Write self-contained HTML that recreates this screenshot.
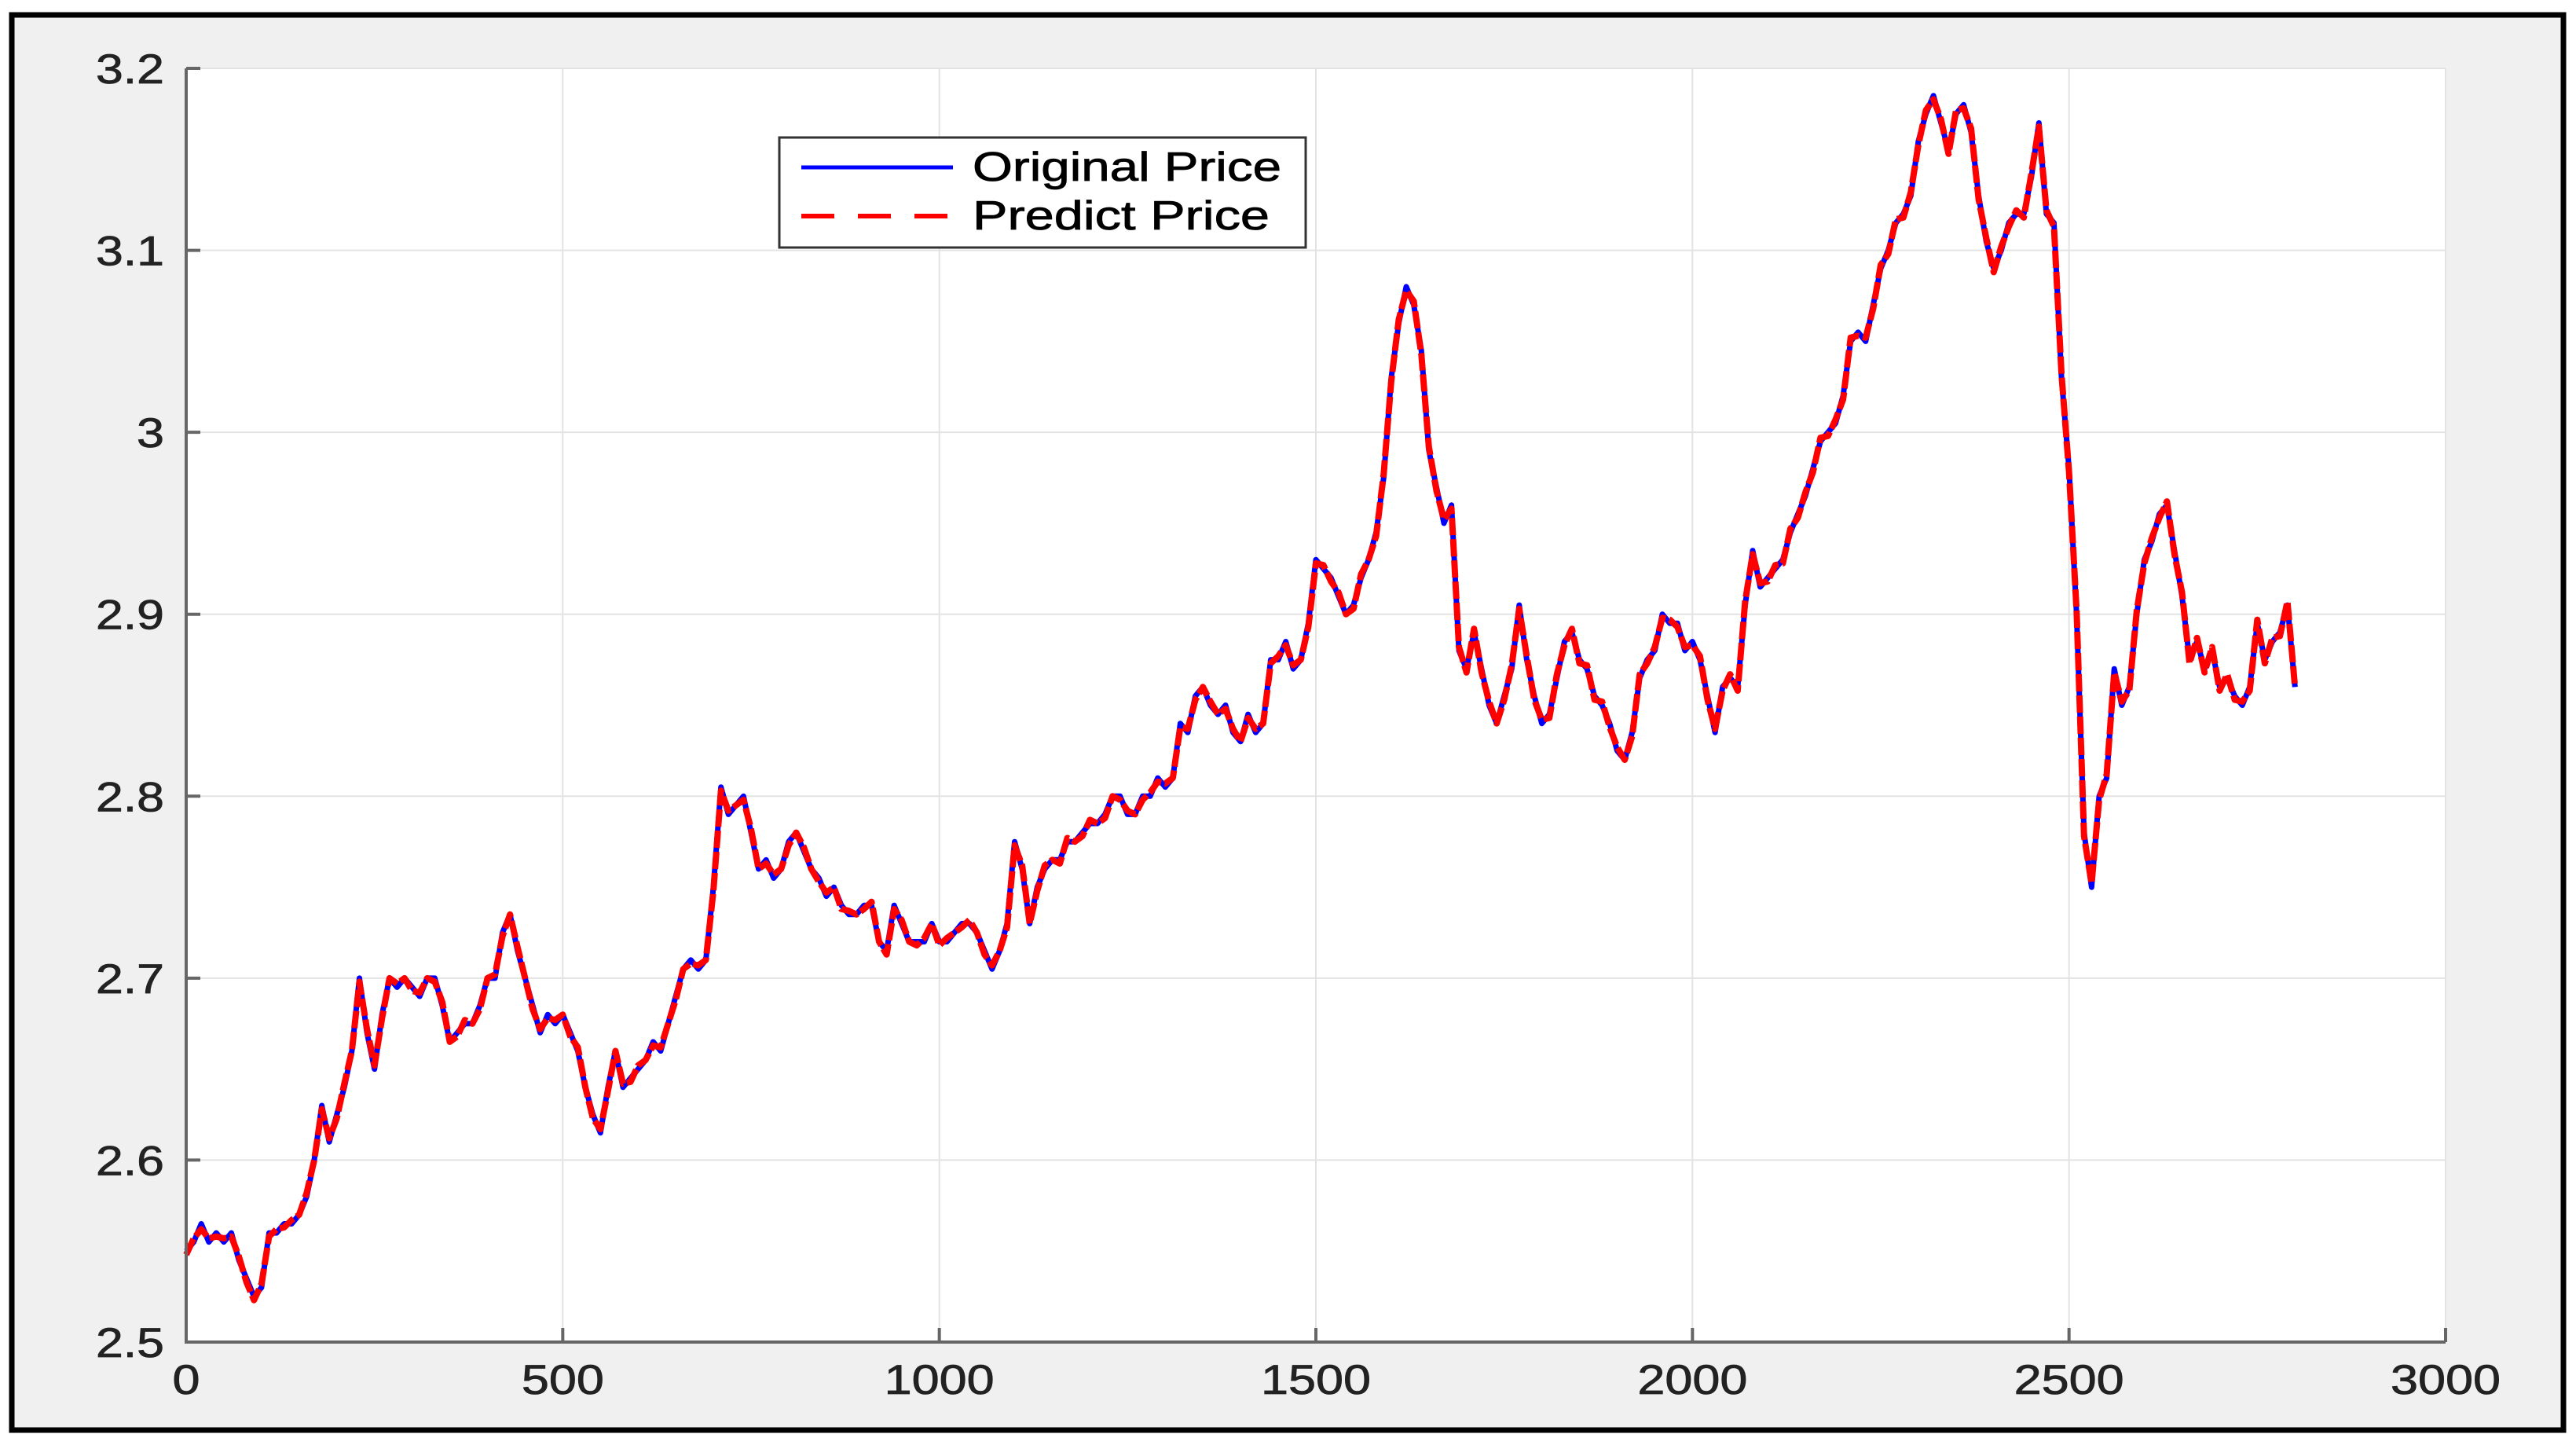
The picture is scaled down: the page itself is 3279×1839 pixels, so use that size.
<!DOCTYPE html>
<html><head><meta charset="utf-8"><style>
html,body{margin:0;padding:0;background:#fff;}
svg{display:block;font-family:"Liberation Sans",Arial,sans-serif;}
</style></head><body>
<svg id="chart" width="3279" height="1839" viewBox="0 0 3279 1839">
<rect x="15" y="19" width="3248" height="1801" fill="#f0f0f0" stroke="#000" stroke-width="7"/>
<rect x="237" y="87" width="2876" height="1621" fill="#fff"/>
<g id="grid"></g>
<g id="series"></g>
<g id="axes"></g>
<g>
<rect x="992" y="175" width="670" height="140" fill="#fff" stroke="#333" stroke-width="3"/>
<line x1="1020" y1="213" x2="1213" y2="213" stroke="#0000ff" stroke-width="5"/>
<text x="1238" y="230" font-size="52" textLength="393" lengthAdjust="spacingAndGlyphs" fill="#000" stroke="#000" stroke-width="0.8">Original Price</text>
<line x1="1020" y1="275" x2="1213" y2="275" stroke="#ff0000" stroke-width="6" stroke-dasharray="42,30"/>
<text x="1238" y="292" font-size="52" textLength="378" lengthAdjust="spacingAndGlyphs" fill="#000" stroke="#000" stroke-width="0.8">Predict Price</text>
</g>
</svg>
<script>
const xVals=[0,10,20,30,40,50,60,70,80,90,100,110,120,130,140,150,160,170,180,190,200,210,220,230,240,250,260,270,280,290,300,310,320,330,340,350,360,370,380,390,400,410,420,430,440,450,460,470,480,490,500,510,520,530,540,550,560,570,580,590,600,610,620,630,640,650,660,670,680,690,700,710,720,730,740,750,760,770,780,790,800,810,820,830,840,850,860,870,880,890,900,910,920,930,940,950,960,970,980,990,1000,1010,1020,1030,1040,1050,1060,1070,1080,1090,1100,1110,1120,1130,1140,1150,1160,1170,1180,1190,1200,1210,1220,1230,1240,1250,1260,1270,1280,1290,1300,1310,1320,1330,1340,1350,1360,1370,1380,1390,1400,1410,1420,1430,1440,1450,1460,1470,1480,1490,1500,1510,1520,1530,1540,1550,1560,1570,1580,1590,1600,1610,1620,1630,1640,1650,1660,1670,1680,1690,1700,1710,1720,1730,1740,1750,1760,1770,1780,1790,1800,1810,1820,1830,1840,1850,1860,1870,1880,1890,1900,1910,1920,1930,1940,1950,1960,1970,1980,1990,2000,2010,2020,2030,2040,2050,2060,2070,2080,2090,2100,2110,2120,2130,2140,2150,2160,2170,2180,2190,2200,2210,2220,2230,2240,2250,2260,2270,2280,2290,2300,2310,2320,2330,2340,2350,2360,2370,2380,2390,2400,2410,2420,2430,2440,2450,2460,2470,2480,2490,2500,2510,2520,2530,2540,2550,2560,2570,2580,2590,2600,2610,2620,2630,2640,2650,2660,2670,2680,2690,2700,2710,2720,2730,2740,2750,2760,2770,2780,2790,2800];
const originalPrice=[2.55,2.555,2.565,2.555,2.56,2.555,2.56,2.545,2.535,2.525,2.53,2.56,2.56,2.565,2.565,2.57,2.58,2.6,2.63,2.61,2.625,2.64,2.66,2.7,2.67,2.65,2.68,2.7,2.695,2.7,2.695,2.69,2.7,2.7,2.685,2.665,2.67,2.675,2.675,2.685,2.7,2.7,2.725,2.735,2.715,2.7,2.685,2.67,2.68,2.675,2.68,2.67,2.66,2.64,2.625,2.615,2.64,2.66,2.64,2.645,2.65,2.655,2.665,2.66,2.675,2.69,2.705,2.71,2.705,2.71,2.75,2.805,2.79,2.795,2.8,2.78,2.76,2.765,2.755,2.76,2.775,2.78,2.77,2.76,2.755,2.745,2.75,2.74,2.735,2.735,2.74,2.74,2.72,2.715,2.74,2.73,2.72,2.72,2.72,2.73,2.72,2.72,2.725,2.73,2.73,2.725,2.715,2.705,2.715,2.73,2.775,2.76,2.73,2.75,2.76,2.765,2.765,2.775,2.775,2.78,2.785,2.785,2.79,2.8,2.8,2.79,2.79,2.8,2.8,2.81,2.805,2.81,2.84,2.835,2.855,2.86,2.85,2.845,2.85,2.835,2.83,2.845,2.835,2.84,2.875,2.875,2.885,2.87,2.875,2.895,2.93,2.925,2.92,2.91,2.9,2.905,2.92,2.93,2.945,2.975,3.03,3.06,3.08,3.07,3.045,2.99,2.97,2.95,2.96,2.88,2.87,2.89,2.87,2.85,2.84,2.855,2.87,2.905,2.875,2.855,2.84,2.845,2.865,2.885,2.89,2.875,2.87,2.855,2.85,2.84,2.825,2.82,2.835,2.865,2.875,2.88,2.9,2.895,2.895,2.88,2.885,2.875,2.855,2.835,2.86,2.865,2.86,2.905,2.935,2.915,2.92,2.925,2.93,2.945,2.955,2.965,2.98,2.995,3.0,3.005,3.02,3.05,3.055,3.05,3.07,3.09,3.1,3.115,3.12,3.13,3.16,3.175,3.185,3.17,3.155,3.175,3.18,3.165,3.13,3.105,3.09,3.1,3.115,3.12,3.12,3.14,3.17,3.12,3.115,3.03,2.98,2.9,2.78,2.75,2.8,2.81,2.87,2.85,2.86,2.9,2.93,2.94,2.955,2.96,2.935,2.91,2.875,2.885,2.87,2.88,2.86,2.865,2.855,2.85,2.86,2.895,2.875,2.885,2.89,2.905,2.86];
const predictPrice=[2.548,2.557,2.562,2.557,2.558,2.557,2.558,2.547,2.533,2.523,2.532,2.558,2.562,2.563,2.567,2.57,2.582,2.6,2.628,2.612,2.623,2.642,2.66,2.698,2.672,2.652,2.678,2.7,2.697,2.7,2.693,2.692,2.7,2.698,2.687,2.665,2.668,2.677,2.675,2.683,2.7,2.702,2.723,2.735,2.717,2.7,2.683,2.672,2.678,2.677,2.68,2.668,2.662,2.64,2.623,2.617,2.638,2.66,2.642,2.643,2.652,2.655,2.663,2.662,2.675,2.688,2.705,2.708,2.707,2.71,2.748,2.803,2.792,2.795,2.798,2.782,2.76,2.763,2.757,2.76,2.773,2.78,2.772,2.76,2.753,2.747,2.75,2.738,2.737,2.735,2.738,2.742,2.72,2.713,2.738,2.732,2.72,2.718,2.722,2.73,2.718,2.722,2.725,2.728,2.732,2.725,2.713,2.707,2.715,2.728,2.773,2.762,2.73,2.748,2.762,2.765,2.763,2.777,2.775,2.778,2.787,2.785,2.788,2.8,2.798,2.792,2.79,2.798,2.802,2.808,2.807,2.81,2.838,2.837,2.853,2.86,2.852,2.845,2.848,2.837,2.83,2.843,2.837,2.84,2.873,2.877,2.883,2.872,2.875,2.893,2.928,2.927,2.918,2.912,2.9,2.903,2.922,2.93,2.943,2.977,3.028,3.062,3.078,3.072,3.043,2.992,2.968,2.952,2.958,2.882,2.868,2.892,2.868,2.852,2.84,2.853,2.872,2.903,2.877,2.853,2.842,2.843,2.867,2.883,2.892,2.873,2.872,2.853,2.852,2.838,2.827,2.82,2.833,2.867,2.873,2.882,2.898,2.897,2.893,2.882,2.883,2.877,2.853,2.837,2.858,2.867,2.858,2.907,2.933,2.917,2.918,2.927,2.928,2.947,2.953,2.967,2.978,2.997,2.998,3.007,3.018,3.052,3.053,3.052,3.068,3.092,3.098,3.117,3.118,3.132,3.158,3.177,3.183,3.172,3.153,3.177,3.178,3.167,3.128,3.107,3.088,3.102,3.113,3.122,3.118,3.142,3.168,3.122,3.113,3.032,2.978,2.902,2.778,2.752,2.798,2.812,2.868,2.852,2.858,2.902,2.928,2.942,2.953,2.962,2.933,2.912,2.873,2.887,2.868,2.882,2.858,2.867,2.853,2.852,2.858,2.897,2.873,2.887,2.888,2.907,2.86];
const xTicks=[0,500,1000,1500,2000,2500,3000];
const yTicks=[2.5,2.6,2.7,2.8,2.9,3.0,3.1,3.2];
const yTickLabels=["2.5","2.6","2.7","2.8","2.9","3","3.1","3.2"];

const L=237,R=3113,T=87,B=1708;
const sx=v=>L+(v-0)/(3000-0)*(R-L);
const sy=v=>B-(v-2.5)/(3.2-2.5)*(B-T);
const NS="http://www.w3.org/2000/svg";
function mk(tag,attrs,parent){const e=document.createElementNS(NS,tag);for(const k in attrs)e.setAttribute(k,attrs[k]);parent.appendChild(e);return e;}
function tlen(s){let w=0;for(const c of s)w+=(c==='.')?17:35;return w;}
const grid=document.getElementById('grid'),axes=document.getElementById('axes'),series=document.getElementById('series');
xTicks.forEach((t,i)=>{
  const g=mk('line',{x1:sx(t),x2:sx(t),y1:T,y2:B,stroke:'#e3e3e3','stroke-width':2},grid);
  
  
  const tk=mk('line',{x1:sx(t),x2:sx(t),y1:B,y2:B-18,stroke:'#666','stroke-width':4},axes);
  
  
  const s=String(t);
  const tx=mk('text',{x:sx(t),y:1774,'font-size':53,'text-anchor':'middle',textLength:tlen(s),lengthAdjust:'spacingAndGlyphs',fill:'#222',stroke:'#222','stroke-width':0.8},axes);
  tx.textContent=s;
  
  
});
yTicks.forEach((t,i)=>{
  const g=mk('line',{x1:L,x2:R,y1:sy(t),y2:sy(t),stroke:'#e3e3e3','stroke-width':2},grid);
  
  
  const tk=mk('line',{x1:L,x2:L+18,y1:sy(t),y2:sy(t),stroke:'#666','stroke-width':4},axes);
  
  
  const s=yTickLabels[i];
  const tx=mk('text',{x:209,y:sy(t)+19,'font-size':53,'text-anchor':'end',textLength:tlen(s),lengthAdjust:'spacingAndGlyphs',fill:'#222',stroke:'#222','stroke-width':0.8},axes);
  tx.textContent=s;
  
  
});
const ax=mk('path',{d:`M${L},${T} L${L},${B} L${R},${B}`,fill:'none',stroke:'#666','stroke-width':4},axes);


function pts(arr){return arr.map((v,i)=>sx(xVals[i]).toFixed(1)+','+sy(v).toFixed(1)).join(' ');}
const l1=mk('polyline',{points:pts(originalPrice),fill:'none',stroke:'#0000ff','stroke-width':7,'stroke-linejoin':'round'},series);


const l2=mk('polyline',{points:pts(predictPrice),fill:'none',stroke:'#ff0000','stroke-width':8,'stroke-dasharray':'22,5','stroke-linejoin':'round'},series);


</script>
</body></html>
